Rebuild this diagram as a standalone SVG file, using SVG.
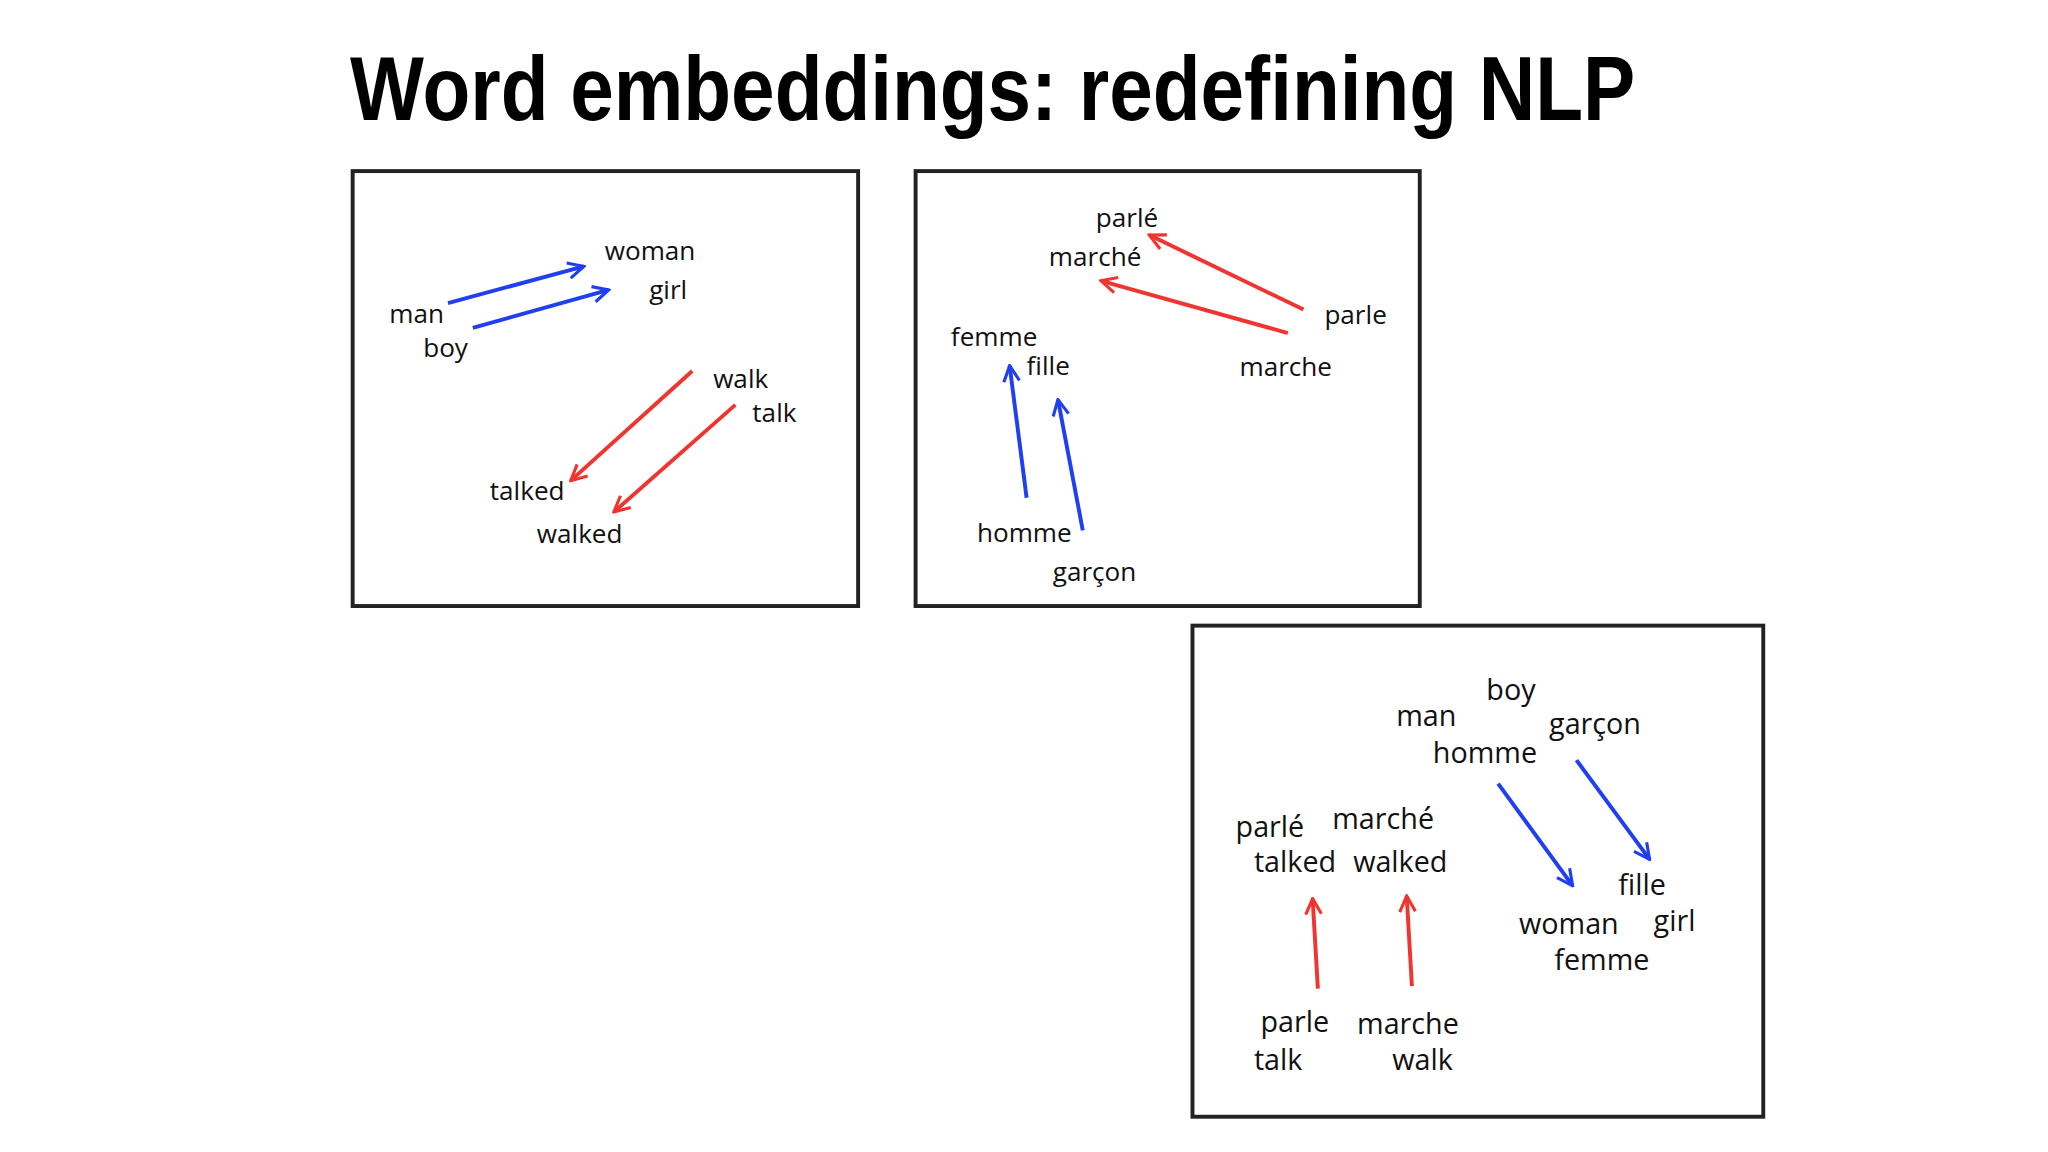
<svg xmlns="http://www.w3.org/2000/svg" width="2048" height="1152" viewBox="0 0 2048 1152">
<style>
.t{font-family:"Open Sans","Liberation Sans",sans-serif;font-size:20px;fill:#111}
.t3{font-size:22px}
.box{fill:none;stroke:#222;stroke-width:3}
.b{stroke:#1f3ff0;stroke-width:3;fill:none}
.r{stroke:#f03530;stroke-width:3;fill:none}
</style>
<defs>
<marker id="mb" viewBox="0 0 10 10" refX="9" refY="5" markerWidth="5" markerHeight="5" orient="auto" markerUnits="strokeWidth"><path d="M1,1 L9,5 L1,9" fill="none" stroke="#1f3ff0" stroke-width="1.6"/></marker>
<marker id="mr" viewBox="0 0 10 10" refX="9" refY="5" markerWidth="5" markerHeight="5" orient="auto" markerUnits="strokeWidth"><path d="M1,1 L9,5 L1,9" fill="none" stroke="#f03530" stroke-width="1.6"/></marker>
</defs>
<rect width="2048" height="1152" fill="#fff"/>
<g transform="scale(1.30612)">
<text x="268" y="92" font-family="Liberation Sans,sans-serif" font-size="70" font-weight="bold" textLength="984" lengthAdjust="spacingAndGlyphs" fill="#000">Word embeddings: redefining NLP</text>
<g id="box1">
<rect class="box" x="270" y="131" width="387" height="333"/>
<text class="t" x="463" y="199">woman</text><text class="t" x="497" y="229">girl</text>
<text class="t" x="298" y="247">man</text><text class="t" x="324" y="273">boy</text>
<text class="t" x="546" y="297">walk</text><text class="t" x="576" y="323">talk</text>
<text class="t" x="375" y="383">talked</text><text class="t" x="411" y="416">walked</text>
</g>
<g id="box2">
<rect class="box" x="701" y="131" width="386" height="333"/>
<text class="t" x="839" y="174">parlé</text><text class="t" x="803" y="204">marché</text>
<text class="t" x="1014" y="248">parle</text><text class="t" x="949" y="288">marche</text>
<text class="t" x="728" y="265">femme</text><text class="t" x="786" y="287">fille</text>
<text class="t" x="748" y="415">homme</text><text class="t" x="806" y="445">garçon</text>
</g>
<g id="box3">
<rect class="box" x="913" y="479" width="437" height="376"/>
<text class="t t3" x="1138" y="536">boy</text><text class="t t3" x="1069" y="556">man</text>
<text class="t t3" x="1186" y="562">garçon</text><text class="t t3" x="1097" y="584">homme</text>
<text class="t t3" x="946" y="641">parlé</text><text class="t t3" x="1020" y="635">marché</text>
<text class="t t3" x="960" y="668">talked</text><text class="t t3" x="1036" y="668">walked</text>
<text class="t t3" x="1239" y="685">fille</text><text class="t t3" x="1163" y="715">woman</text>
<text class="t t3" x="1266" y="713">girl</text><text class="t t3" x="1190" y="743">femme</text>
<text class="t t3" x="965" y="790">parle</text><text class="t t3" x="1039" y="792">marche</text>
<text class="t t3" x="960" y="819">talk</text><text class="t t3" x="1066" y="819">walk</text>
</g>
<g id="connectors">
<line class="b" x1="343" y1="232" x2="447" y2="204" marker-end="url(#mb)"/>
<line class="b" x1="362" y1="251" x2="466" y2="222" marker-end="url(#mb)"/>
<line class="r" x1="530" y1="284" x2="437" y2="368" marker-end="url(#mr)"/>
<line class="r" x1="563" y1="310" x2="470" y2="392" marker-end="url(#mr)"/>
<line class="r" x1="998" y1="237" x2="880" y2="180" marker-end="url(#mr)"/>
<line class="r" x1="986" y1="255" x2="843" y2="215" marker-end="url(#mr)"/>
<line class="b" x1="786" y1="381" x2="773" y2="280" marker-end="url(#mb)"/>
<line class="b" x1="829" y1="406" x2="810" y2="306" marker-end="url(#mb)"/>
<line class="b" x1="1147" y1="600" x2="1204" y2="678" marker-end="url(#mb)"/>
<line class="b" x1="1207" y1="582" x2="1263" y2="658" marker-end="url(#mb)"/>
<line class="r" x1="1009" y1="757" x2="1005" y2="688" marker-end="url(#mr)"/>
<line class="r" x1="1081" y1="755" x2="1077" y2="686" marker-end="url(#mr)"/>
</g>
</g>
</svg>
